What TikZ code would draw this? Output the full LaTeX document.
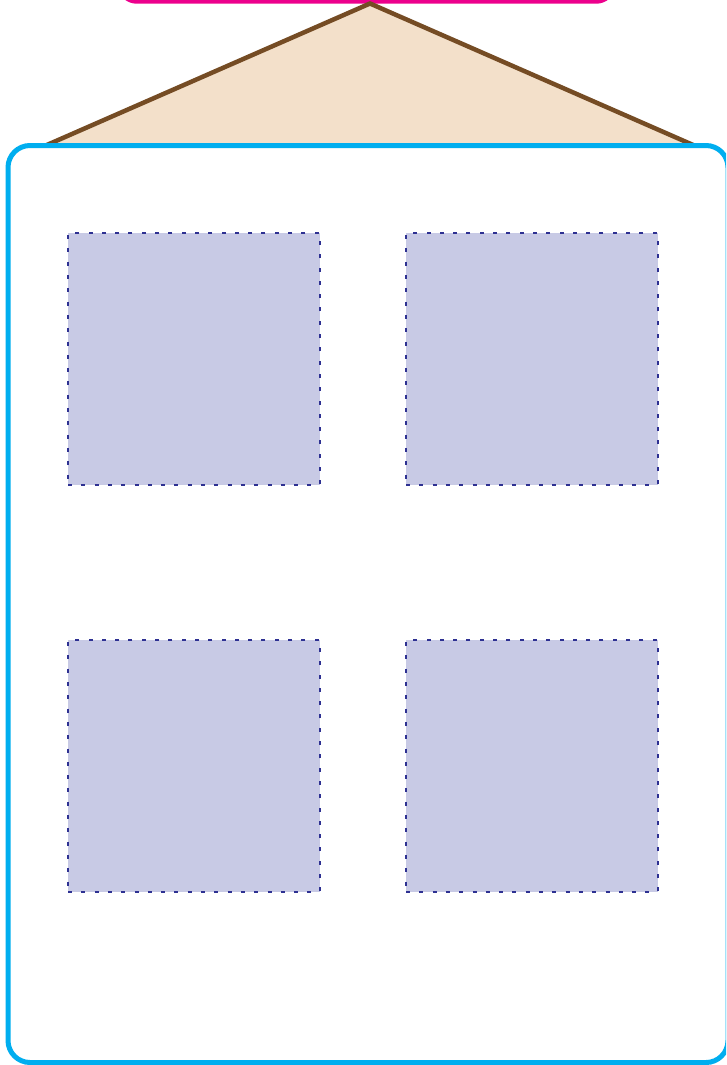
\documentclass[tikz,border=0pt]{standalone}
\definecolor{roofbrown}{HTML}{754C24}
\definecolor{rooffill}{HTML}{F3E0CA}
\definecolor{wallblue}{HTML}{00AEEF}
\definecolor{signpink}{HTML}{EC008C}
\definecolor{winfill}{HTML}{C8CAE5}
\definecolor{winline}{HTML}{2E3192}
\tikzset{
  winbox/.style={draw=winline, fill=winfill, line width=2.5pt, dash pattern=on 4pt off 9.3pt, minimum width=252pt, minimum height=252pt, inner sep=0pt, outer sep=0pt, anchor=north west},
}
\begin{document}
\begin{tikzpicture}[x=1pt,y=-1pt]
\useasboundingbox (0,0) rectangle (726,1065);
\clip (0,0) rectangle (726,1065);
% sign (partly outside)
\draw[signpink, line width=4.5pt, rounded corners=18pt] (119,-60) rectangle (614,1.5);
% roof
\coordinate (apex) at (370,3.5);
\coordinate (roofL) at (40,148);
\coordinate (roofR) at (700,148);
\fill[rooffill] (roofL) -- (apex) -- (roofR) -- cycle;
\draw[roofbrown, line width=4.5pt, line join=miter] (roofL) -- (apex) -- (roofR);
% wall
\node[draw=wallblue, fill=white, line width=5pt, rounded corners=22pt, minimum width=720pt, minimum height=917pt, inner sep=0pt, outer sep=0pt, anchor=north west] (wall) at (8,145.5) {};
% windows
\node[winbox] (w1) at (68,233) {};
\node[winbox] (w2) at (406,233) {};
\node[winbox] (w3) at (68,640) {};
\node[winbox] (w4) at (406,640) {};
\end{tikzpicture}
\end{document}
